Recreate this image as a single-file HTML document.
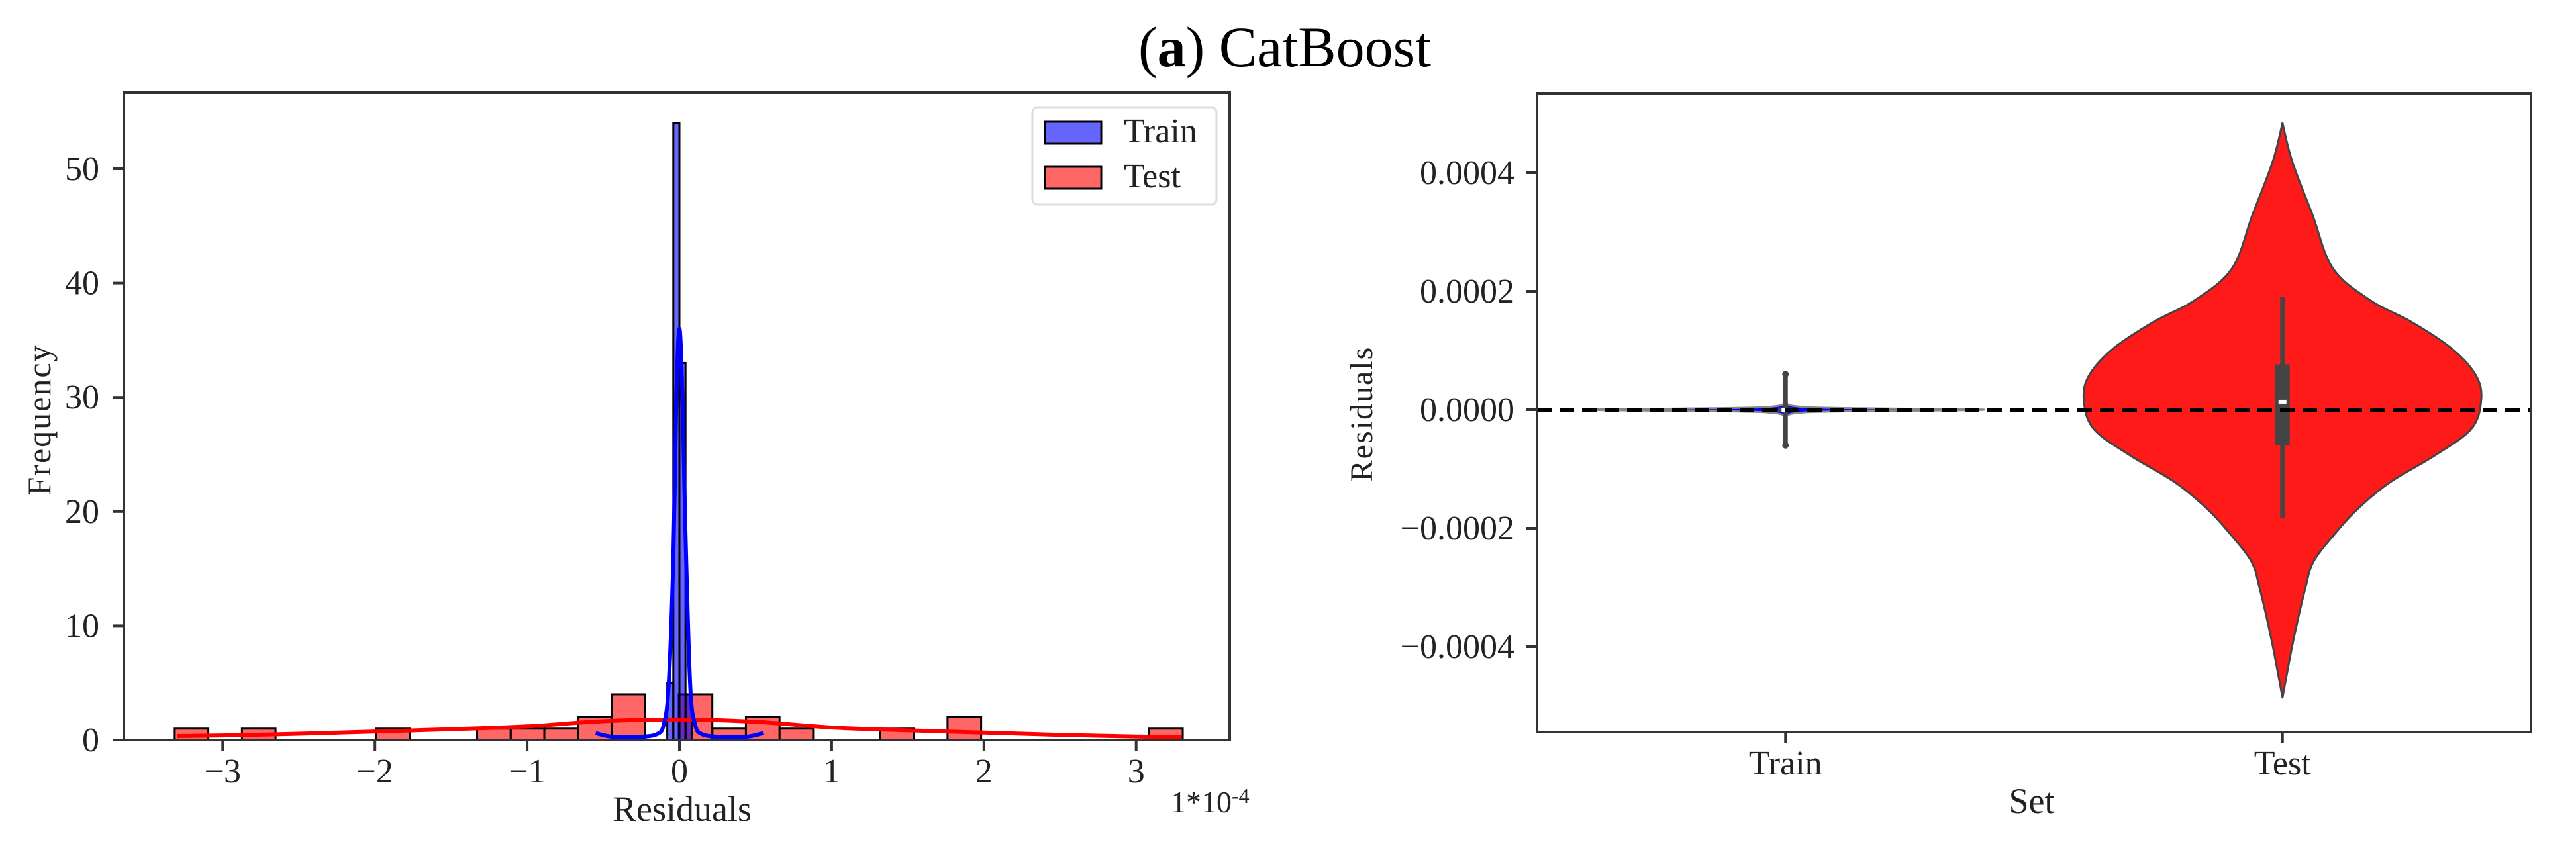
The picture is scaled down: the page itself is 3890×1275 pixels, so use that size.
<!DOCTYPE html>
<html><head><meta charset="utf-8"><style>
html,body{margin:0;padding:0;background:#fff;}
svg{display:block;font-family:"Liberation Serif",serif;}
</style></head><body>
<svg id="fig" width="3890" height="1275" viewBox="0 0 3890 1275" xmlns="http://www.w3.org/2000/svg">
<rect width="3890" height="1275" fill="#fff"/>
<text x="1940" y="100" font-size="86" text-anchor="middle" fill="#000">(<tspan font-weight="bold">a</tspan>) CatBoost</text>
<g id="left"></g>
<g id="right"></g>
</svg>
<script>
// ---------- Left chart data ----------
const testBinStart = -3.315;
const testBinWidth = 0.2207;
const testCounts = [1,0,1,0,0,0,1,0,0,1,1,1,2,4,0,4,1,2,1,0,0,1,0,2,0,0,0,0,0,1];
const trainBinEdges = [-0.08,-0.04,0,0.04,0.08];
const trainCounts = [5,54,33,4];
const testKdeX = [-3.3,-3.0,-2.5,-2.0,-1.5,-1.0,-0.5,0,0.5,1.0,1.5,2.0,2.5,3.0,3.3];
const testKdeY = [0.35,0.4,0.55,0.75,0.95,1.2,1.65,1.8,1.6,1.1,0.85,0.65,0.45,0.3,0.25];
const trainKdeX = [-0.55,-0.45,-0.3,-0.15,-0.1,-0.07,-0.04,-0.02,0,0.02,0.04,0.07,0.1,0.15,0.3,0.45,0.55];
const trainKdeY = [0.6,0.3,0.25,0.5,1.5,5,16,30,36,30,18,5,1.5,0.5,0.25,0.3,0.6];
const leftXTicks = [-3,-2,-1,0,1,2,3];
const leftXTickLabels = ["\u22123","\u22122","\u22121","0","1","2","3"];
const leftYTicks = [0,10,20,30,40,50];
// ---------- Right chart data ----------
const violinCats = ["Train","Test"];
const testViolinV = [0.000484,0.000419,0.000329,0.000239,0.000185,0.000149,0.000104,0.000059,0.000018,-0.000032,-0.000077,-0.000122,-0.000167,-0.000212,-0.000257,-0.000302,-0.000392,-0.000486];
const testViolinW = [0,12,37,62,108,158,208,238,245,233,188,133,93,63,38,28,13,0];
const trainViolinV = [0.000012,0.000006,0.000003,0,-0.000003,-0.000006,-0.000012];
const trainViolinW = [0,12,60,245,60,12,0];
const testBox = {wlo:-0.000183, q1:-0.0000604, med:0.0000135, q3:0.0000766, whi:0.000191};
const trainBox = {wlo:-0.00006, q1:-0.000004, med:0, q3:0.000004, whi:0.00006};
const rightYTicks = [0.0004,0.0002,0,-0.0002,-0.0004];
const rightYTickLabels = ["0.0004","0.0002","0.0000","\u22120.0002","\u22120.0004"];

const NS="http://www.w3.org/2000/svg";
function mk(parent,tag,attrs,text){const e=document.createElementNS(NS,tag);for(const k in attrs)e.setAttribute(k,attrs[k]);if(text!==undefined)e.textContent=text;parent.appendChild(e);return e;}
function smooth(pts){
  let s='M'+pts[0][0].toFixed(1)+','+pts[0][1].toFixed(1);
  for(let i=0;i<pts.length-1;i++){
    const p0=pts[Math.max(0,i-1)],p1=pts[i],p2=pts[i+1],p3=pts[Math.min(pts.length-1,i+2)];
    const c1=[p1[0]+(p2[0]-p0[0])/6,p1[1]+(p2[1]-p0[1])/6];
    const c2=[p2[0]-(p3[0]-p1[0])/6,p2[1]-(p3[1]-p1[1])/6];
    s+=' C'+c1[0].toFixed(1)+','+c1[1].toFixed(1)+' '+c2[0].toFixed(1)+','+c2[1].toFixed(1)+' '+p2[0].toFixed(1)+','+p2[1].toFixed(1);
  }
  return s;
}

// ===== Left =====
const L=document.getElementById('left');
const lx0=187,lx1=1857,ly0=140,ly1=1118;
const xs=v=>1026+v*229.9;
const ys=v=>ly1-v*17.26;
testCounts.forEach((c,i)=>{ if(c<=0)return;
  const a=testBinStart+i*testBinWidth;
  const r=mk(L,'rect',{x:xs(a),y:ys(c),width:xs(a+testBinWidth)-xs(a),height:ys(0)-ys(c),fill:'rgba(255,0,0,0.6)',stroke:'#000','stroke-width':3});
  
  
});
trainCounts.forEach((c,i)=>{
  const a=trainBinEdges[i],b=trainBinEdges[i+1];
  const r=mk(L,'rect',{x:xs(a),y:ys(c),width:xs(b)-xs(a),height:ys(0)-ys(c),fill:'rgba(0,0,255,0.6)',stroke:'#000','stroke-width':3});
  
  
});
const tk=mk(L,'path',{d:smooth(testKdeX.map((x,i)=>[xs(x),ys(testKdeY[i])])),fill:'none',stroke:'#ff0000','stroke-width':6});


const trk=mk(L,'path',{d:smooth(trainKdeX.map((x,i)=>[xs(x),ys(trainKdeY[i])])),fill:'none',stroke:'#0000ff','stroke-width':6,'stroke-linejoin':'round'});


const lf=mk(L,'rect',{x:lx0,y:ly0,width:lx1-lx0,height:ly1-ly0,fill:'none',stroke:'#333','stroke-width':4});


leftYTicks.forEach(v=>{
  mk(L,'line',{x1:lx0-16,x2:lx0,y1:ys(v),y2:ys(v),stroke:'#333','stroke-width':4});
  const t=mk(L,'text',{x:150,y:ys(v)+17,'font-size':52,'text-anchor':'end',fill:'#222'},String(v));
  
  
});
leftXTicks.forEach((v,i)=>{
  mk(L,'line',{x1:xs(v),x2:xs(v),y1:ly1,y2:ly1+16,stroke:'#333','stroke-width':4});
  const t=mk(L,'text',{x:xs(v),y:1182,'font-size':52,'text-anchor':'middle',fill:'#222'},leftXTickLabels[i]);
  
  
});
const yl=mk(L,'text',{x:0,y:0,'font-size':50,'text-anchor':'middle',fill:'#222',transform:'translate(76,634) rotate(-90)','letter-spacing':2},'Frequency');


const xl=mk(L,'text',{x:1030,y:1240,'font-size':54,'text-anchor':'middle',fill:'#222'},'Residuals');


const sc=mk(L,'text',{x:1768,y:1227,'font-size':46,fill:'#222'},'1*10');


mk(sc,'tspan',{dy:-14,'font-size':32},'-4');
const lg=mk(L,'g',{});


mk(lg,'rect',{x:1559,y:162,width:278,height:147,rx:8,fill:'#fff',stroke:'#ddd','stroke-width':3});
const le1=mk(lg,'rect',{x:1578,y:184,width:85,height:33,fill:'rgba(0,0,255,0.6)',stroke:'#000','stroke-width':3});


mk(lg,'text',{x:1697,y:215,'font-size':52,fill:'#222'},'Train');
const le2=mk(lg,'rect',{x:1578,y:252,width:85,height:33,fill:'rgba(255,0,0,0.6)',stroke:'#000','stroke-width':3});


mk(lg,'text',{x:1697,y:283,'font-size':52,fill:'#222'},'Test');

// ===== Right =====
const R=document.getElementById('right');
const rx0=2321,rx1=3822,ry0=141,ry1=1106;
const ry=v=>619-v/0.0002*179;
const cx=i=>rx0+(i+0.5)/2*(rx1-rx0);
function violin(cIdx,V,W,fill,stroke,name){
  const c=cx(cIdx);
  const right=V.map((v,i)=>[c+W[i]*1.2253,ry(v)]);
  const left=V.map((v,i)=>[c-W[i]*1.2253,ry(v)]).reverse();
  const p=smooth(right)+' '+smooth(left).replace(/^M/,'L')+' Z';
  const e=mk(R,'path',{d:p,fill:fill,stroke:stroke,'stroke-width':3,'stroke-linejoin':'round'});
  
  
}
function box(cIdx,B,name){
  const c=cx(cIdx);
  const g=mk(R,'g',{});
  
  
  mk(g,'line',{x1:c,x2:c,y1:ry(B.whi),y2:ry(B.wlo),stroke:'#444','stroke-width':7});
  mk(g,'rect',{x:c-11,y:ry(B.q3),width:22,height:Math.max(2,ry(B.q1)-ry(B.q3)),fill:'#444'});
  mk(g,'rect',{x:c-6,y:ry(B.med)-3,width:12,height:6,fill:'#fff'});
}
violin(0,trainViolinV,trainViolinW,'#0000ff','#888','violin-train');
violin(1,testViolinV,testViolinW,'#ff1a1a','#444','violin-test');
box(0,trainBox,'box-train');
mk(R,'circle',{cx:cx(0),cy:ry(trainBox.whi),r:5,fill:'#444'});
mk(R,'circle',{cx:cx(0),cy:ry(trainBox.wlo),r:5,fill:'#444'});
box(1,testBox,'box-test');
const zl=mk(R,'line',{x1:rx0,x2:rx1,y1:ry(0),y2:ry(0),stroke:'#000','stroke-width':6,'stroke-dasharray':'22 12'});


const rf=mk(R,'rect',{x:rx0,y:ry0,width:rx1-rx0,height:ry1-ry0,fill:'none',stroke:'#333','stroke-width':4});


rightYTicks.forEach((v,i)=>{
  mk(R,'line',{x1:rx0-16,x2:rx0,y1:ry(v),y2:ry(v),stroke:'#333','stroke-width':4});
  const t=mk(R,'text',{x:2287,y:ry(v)+17,'font-size':52,'text-anchor':'end',fill:'#222'},rightYTickLabels[i]);
  
  
});
violinCats.forEach((c,i)=>{
  mk(R,'line',{x1:cx(i),x2:cx(i),y1:ry1,y2:ry1+16,stroke:'#333','stroke-width':4});
  const t=mk(R,'text',{x:cx(i),y:1170,'font-size':52,'text-anchor':'middle',fill:'#222'},c);
  
  
});
const ryl=mk(R,'text',{x:0,y:0,'font-size':48,'text-anchor':'middle',fill:'#222',transform:'translate(2072,625) rotate(-90)','letter-spacing':2},'Residuals');


const rxl=mk(R,'text',{x:3068,y:1228,'font-size':54,'text-anchor':'middle',fill:'#222'},'Set');


</script>
</body></html>
